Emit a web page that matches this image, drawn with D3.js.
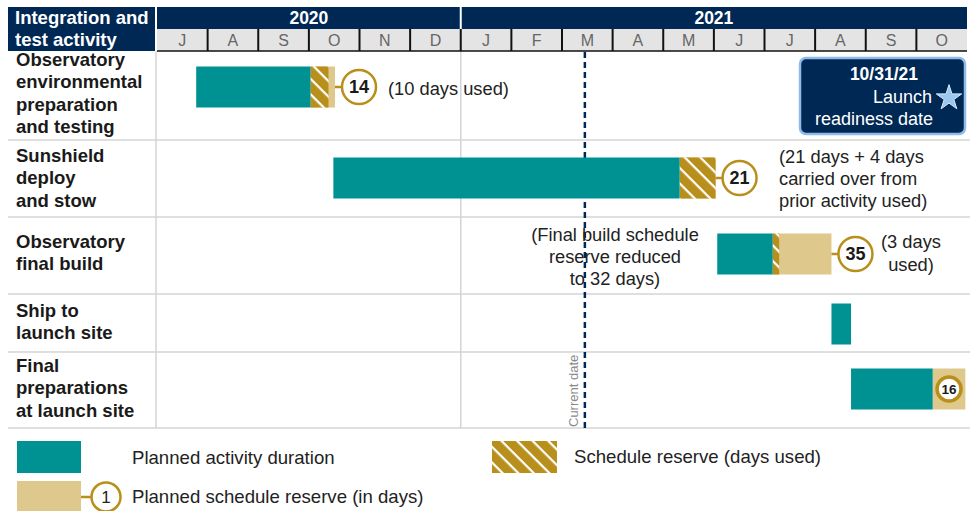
<!DOCTYPE html>
<html>
<head>
<meta charset="utf-8">
<script src="https://cdn.jsdelivr.net/npm/d3@7"></script>
<style>
  html, body { margin: 0; padding: 0; background: #fff; }
  svg { display: block; font-family: "Liberation Sans", Arial, sans-serif; }
</style>
</head>
<body>
<div id="main"></div>
<script>
// ---- data ----
const years = ['2020', '2021'];
const yearStartMonth = [0, 6];            // month index (from Jul 2020) where each year's band starts
const months = ['J','A','S','O','N','D','J','F','M','A','M','J','J','A','S','O'];
const activities = [
  ['Observatory', 'environmental', 'preparation', 'and testing'],
  ['Sunshield', 'deploy', 'and stow'],
  ['Observatory', 'final build'],
  ['Ship to', 'launch site'],
  ['Final', 'preparations', 'at launch site']
];
const activityStart = ['2020-07-25', '2020-10-16', '2021-06-03', '2021-08-11', '2021-08-23'];
const activityEnd   = ['2020-10-02', '2021-05-11', '2021-07-06', '2021-08-23', '2021-10-11'];
const reserveUsedEnd = ['2020-10-13', '2021-06-02', '2021-07-10', null, null];
const reserveEnd     = ['2020-10-17', '2021-06-02', '2021-08-11', null, '2021-10-31'];
const reserveDays = [14, 21, 35, null, 16];
const notes = [
  ['(10 days used)'],
  ['(21 days + 4 days', 'carried over from', 'prior activity used)'],
  ['(3 days', 'used)'],
  [],
  []
];
const buildNote = ['(Final build schedule', 'reserve reduced', 'to 32 days)'];
const currentDate = '2021-03-15';
const launchLines = ['10/31/21', 'Launch', 'readiness date'];

// ---- layout ----
const WIDTH = 970, HEIGHT = 511;
const PLOTX0 = 157, PLOTX1 = 967;
const rowTops = [51, 140, 217, 294, 352, 428];
const labelTops = [66, 162, 248, 317, 372];
const barCenters = [87, 178, 254, 324, 389];
const BARH = 41;

const NAVY = '#002855', TEAL = '#009193', GOLD = '#b98f1c', TAN = '#dec88b';
const GRID = '#d4d4d4', TEXT = '#1a1a1a';

const toMonths = (s) => {
  const [y, m, d] = s.split('-').map(Number);
  const dim = new Date(y, m, 0).getDate();
  return (y - 2020) * 12 + (m - 1) - 6 + (d - 1) / dim;
};
const x = d3.scaleLinear().domain([0, months.length]).range([PLOTX0, PLOTX1]);
const xd = (s) => x(toMonths(s));

const svg = d3.select('#main').append('svg').attr('width', WIDTH).attr('height', HEIGHT);

const defs = svg.append('defs');
const pat = defs.append('pattern').attr('id', 'hatch').attr('patternUnits', 'userSpaceOnUse')
  .attr('width', 11).attr('height', 11).attr('patternTransform', 'rotate(45)');
pat.append('rect').attr('width', 11).attr('height', 11).attr('fill', GOLD);
pat.append('rect').attr('x', 0).attr('y', 0).attr('width', 11).attr('height', 2.2).attr('fill', '#fff');

// ---- grid ----
const grid = svg.append('g');
grid.selectAll('line.h').data(rowTops.slice(1)).enter().append('line')
  .attr('x1', 8).attr('x2', WIDTH).attr('y1', d => d).attr('y2', d => d)
  .attr('stroke', GRID).attr('stroke-width', 1.5);
grid.selectAll('line.v').data([PLOTX0 - 1, x(yearStartMonth[1])]).enter().append('line')
  .attr('x1', d => d).attr('x2', d => d).attr('y1', 51).attr('y2', 428)
  .attr('stroke', GRID).attr('stroke-width', 1.5);

// ---- header ----
const head = svg.append('g');
head.append('rect').attr('x', 8).attr('y', 7).attr('width', 147).attr('height', 44).attr('fill', NAVY);
head.selectAll('text.hd').data(['Integration and', 'test activity']).enter().append('text')
  .attr('x', 15).attr('y', (d, i) => 24 + i * 22).attr('fill', '#fff')
  .attr('font-weight', 'bold').attr('font-size', 18.5).text(d => d);

const yearEnds = yearStartMonth.slice(1).concat([months.length]);
head.selectAll('rect.yr').data(years).enter().append('rect')
  .attr('x', (d, i) => x(yearStartMonth[i]) + (i ? 1 : 0))
  .attr('y', 7).attr('height', 22)
  .attr('width', (d, i) => x(yearEnds[i]) - x(yearStartMonth[i]) - 1)
  .attr('fill', NAVY);
head.selectAll('text.yr').data(years).enter().append('text')
  .attr('x', (d, i) => (x(yearStartMonth[i]) + x(yearEnds[i])) / 2).attr('y', 24)
  .attr('text-anchor', 'middle').attr('fill', '#fff').attr('font-weight', 'bold').attr('font-size', 17.5)
  .text(d => d);

head.append('rect').attr('x', PLOTX0).attr('y', 29).attr('width', PLOTX1 - PLOTX0).attr('height', 22)
  .attr('fill', '#e4e4e4');
head.selectAll('line.mo').data(d3.range(1, months.length)).enter().append('line')
  .attr('x1', d => x(d)).attr('x2', d => x(d)).attr('y1', 29).attr('y2', 51)
  .attr('stroke', '#111').attr('stroke-width', 2);
head.append('line').attr('x1', PLOTX0).attr('x2', PLOTX1).attr('y1', 51).attr('y2', 51)
  .attr('stroke', '#111').attr('stroke-width', 1.5);
head.selectAll('text.mo').data(months).enter().append('text')
  .attr('x', (d, i) => x(i + 0.5)).attr('y', 46).attr('text-anchor', 'middle')
  .attr('fill', '#666').attr('font-size', 16).text(d => d);

// ---- row labels ----
const labels = svg.append('g');
activities.forEach((lines, r) => {
  labels.selectAll(null).data(lines).enter().append('text')
    .attr('x', 16).attr('y', (d, i) => labelTops[r] + i * 22.3)
    .attr('font-weight', 'bold').attr('font-size', 18.5).attr('fill', TEXT).text(d => d);
});

// ---- current date ----
svg.append('line').attr('x1', xd(currentDate)).attr('x2', xd(currentDate)).attr('y1', 52).attr('y2', 428)
  .attr('stroke', NAVY).attr('stroke-width', 2.5).attr('stroke-dasharray', '6,4');
svg.append('text').attr('transform', `translate(${xd(currentDate) - 7},427) rotate(-90)`)
  .attr('fill', '#8a8a8a').attr('font-size', 13).text('Current date');

// ---- bars ----
const bars = svg.append('g');
activities.forEach((a, r) => {
  const y0 = barCenters[r] - BARH / 2;
  if (reserveEnd[r]) {
    bars.append('rect').attr('x', xd(activityEnd[r])).attr('y', y0)
      .attr('width', xd(reserveEnd[r]) - xd(activityEnd[r])).attr('height', BARH).attr('fill', TAN);
  }
  if (reserveUsedEnd[r]) {
    bars.append('rect').attr('x', xd(activityEnd[r])).attr('y', y0)
      .attr('width', xd(reserveUsedEnd[r]) - xd(activityEnd[r])).attr('height', BARH).attr('fill', 'url(#hatch)');
  }
  bars.append('rect').attr('x', xd(activityStart[r])).attr('y', y0)
    .attr('width', xd(activityEnd[r]) - xd(activityStart[r])).attr('height', BARH).attr('fill', TEAL);
});

// ---- reserve badges ----
const badge = (g, cx, cy, rad, label, fs, sw) => {
  g.append('circle').attr('cx', cx).attr('cy', cy).attr('r', rad)
    .attr('fill', '#fff').attr('stroke', GOLD).attr('stroke-width', sw);
  g.append('text').attr('x', cx).attr('y', cy + fs * 0.36).attr('text-anchor', 'middle')
    .attr('font-weight', 'bold').attr('font-size', fs).attr('fill', TEXT).text(label);
};
const badges = svg.append('g');
activities.forEach((a, r) => {
  if (reserveDays[r] == null) return;
  const cy = barCenters[r];
  const barEnd = xd(reserveEnd[r]);
  if (r === activities.length - 1) {
    badge(badges, (xd(activityEnd[r]) + barEnd) / 2, cy, 12, reserveDays[r], 13.5, 3.5);
  } else {
    const cx = barEnd + 24;
    badges.append('line').attr('x1', barEnd).attr('x2', cx - 17).attr('y1', cy).attr('y2', cy)
      .attr('stroke', GOLD).attr('stroke-width', 2.5);
    badge(badges, cx, cy, 17, reserveDays[r], 18, 2.5);
  }
});

// ---- notes ----
const noteG = svg.append('g').attr('font-size', 18.3).attr('fill', '#222');
noteG.append('text').attr('x', 388).attr('y', 95).text(notes[0][0]);
noteG.selectAll('text.n2').data(notes[1]).enter().append('text')
  .attr('x', 779).attr('y', (d, i) => 163 + i * 22).text(d => d);
noteG.selectAll('text.n3').data(notes[2]).enter().append('text')
  .attr('x', 911).attr('y', (d, i) => 248 + i * 23).attr('text-anchor', 'middle').text(d => d);
noteG.selectAll('text.nb').data(buildNote).enter().append('text')
  .attr('x', 615).attr('y', (d, i) => 241 + i * 22).attr('text-anchor', 'middle').text(d => d);

// ---- launch box ----
const lb = svg.append('g');
lb.append('rect').attr('x', 800).attr('y', 58).attr('width', 165).attr('height', 76).attr('rx', 6)
  .attr('fill', NAVY).attr('stroke', '#8dbbea').attr('stroke-width', 2.5);
lb.append('text').attr('x', 918).attr('y', 80).attr('text-anchor', 'end').attr('fill', '#fff')
  .attr('font-weight', 'bold').attr('font-size', 17.5).text(launchLines[0]);
lb.append('text').attr('x', 932).attr('y', 103).attr('text-anchor', 'end').attr('fill', '#fff')
  .attr('font-size', 18).text(launchLines[1]);
lb.append('text').attr('x', 933).attr('y', 125).attr('text-anchor', 'end').attr('fill', '#fff')
  .attr('font-size', 18).text(launchLines[2]);
lb.append('path').attr('d', d3.symbol(d3.symbolStar, 200)()).attr('transform', 'translate(949,98)')
  .attr('fill', '#9cc8f0').attr('stroke', '#dbeafa').attr('stroke-width', 1);

// ---- legend ----
const lg = svg.append('g').attr('font-size', 18.6).attr('fill', '#222');
lg.append('rect').attr('x', 17).attr('y', 441).attr('width', 64).attr('height', 32).attr('fill', TEAL);
lg.append('text').attr('x', 132).attr('y', 464).text('Planned activity duration');
lg.append('rect').attr('x', 492).attr('y', 441).attr('width', 65).attr('height', 32).attr('fill', 'url(#hatch)');
lg.append('text').attr('x', 574).attr('y', 463).text('Schedule reserve (days used)');
lg.append('rect').attr('x', 17).attr('y', 481).attr('width', 64).attr('height', 32).attr('fill', TAN);
lg.append('line').attr('x1', 81).attr('x2', 92).attr('y1', 497).attr('y2', 497).attr('stroke', GOLD).attr('stroke-width', 2.5);
lg.append('circle').attr('cx', 106).attr('cy', 497).attr('r', 14.5).attr('fill', '#fff')
  .attr('stroke', GOLD).attr('stroke-width', 2.5);
lg.append('text').attr('x', 106).attr('y', 503).attr('text-anchor', 'middle').attr('font-size', 17).text('1');
lg.append('text').attr('x', 132).attr('y', 503).text('Planned schedule reserve (in days)');
</script>
</body>
</html>
